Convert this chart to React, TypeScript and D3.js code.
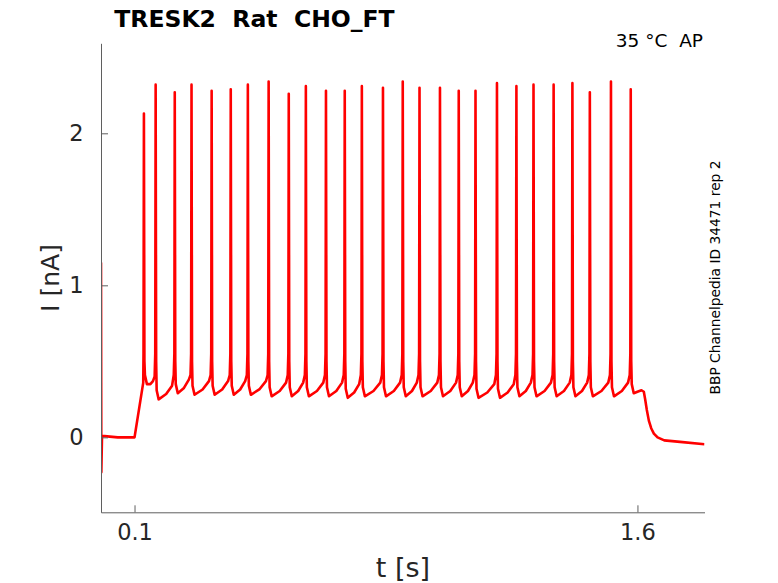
import { useEffect, useRef } from "react";
import * as d3 from "d3";

// spike times (s), peak currents (nA) and the trough reached after each spike
const spikeTimes = [
  0.128, 0.163, 0.22, 0.27, 0.33, 0.387, 0.438, 0.5, 0.56, 0.611, 0.671, 0.727,
  0.778, 0.841, 0.9, 0.95, 1.011, 1.067, 1.117, 1.181, 1.239, 1.29, 1.35, 1.406,
  1.458, 1.521, 1.58,
];
const spikePeaks = [
  2.13, 2.32, 2.27, 2.32, 2.28, 2.29, 2.32, 2.34, 2.26, 2.31, 2.28, 2.28, 2.31,
  2.3, 2.34, 2.3, 2.3, 2.28, 2.28, 2.33, 2.31, 2.32, 2.32, 2.33, 2.27, 2.34, 2.29,
];
const troughs = [
  0.35, 0.25, 0.29, 0.28, 0.28, 0.28, 0.28, 0.27, 0.27, 0.27, 0.27, 0.26, 0.27,
  0.27, 0.27, 0.27, 0.27, 0.27, 0.26, 0.26, 0.27, 0.27, 0.27, 0.27, 0.27, 0.27,
  0.29,
];
// how far the current climbs back up just before the next spike
const preSpikeRise = [
  0.02, 0.09, 0.09, 0.09, 0.09, 0.09, 0.09, 0.09, 0.09, 0.09, 0.09, 0.09, 0.09,
  0.09, 0.09, 0.09, 0.09, 0.09, 0.09, 0.09, 0.09, 0.09, 0.09, 0.09, 0.09, 0.09,
];

// holding current before the step, and the tail after it
const preStep: [number, number][] = [
  [0, 1.15],
  [0.001, -0.23],
  [0.003, 0.01],
  [0.05, 0.0],
  [0.1, 0.0],
  [0.126, 0.36],
];
const postStep: [number, number][] = [
  [1.6, 0.3],
  [1.612, 0.31],
  [1.619, 0.3],
  [1.623, 0.25],
  [1.628, 0.18],
  [1.634, 0.11],
  [1.641, 0.06],
  [1.649, 0.025],
  [1.66, 0.0],
  [1.68, -0.02],
  [1.727, -0.03],
  [1.8, -0.045],
];

const xTicks = [0.1, 1.6];
const yTicks = [0, 1, 2];

const W = 778;
const H = 583;
const margin = { left: 101, right: 73.5, top: 43.3, bottom: 70.7 };

function buildTrace(): [number, number][] {
  const pts: [number, number][] = [...preStep];
  spikeTimes.forEach((t, i) => {
    const tr = troughs[i];
    if (i > 0) {
      const prev = troughs[i - 1];
      pts.push([t - 0.008, prev + preSpikeRise[i - 1]]);
      pts.push([t - 0.003, i === 1 ? prev + 0.05 : 0.41]);
    }
    pts.push([t - 0.0012, 0.55]);
    pts.push([t, spikePeaks[i]]);
    pts.push([t + 0.0015, 0.5]);
    pts.push([t + 0.003, tr + 0.06]);
    pts.push([t + 0.009, tr]);
    const next = spikeTimes[i + 1];
    if (next !== undefined) {
      pts.push([t + 0.55 * (next - t), tr + (i === 0 ? 0.0 : 0.035)]);
    }
  });
  return pts.concat(postStep);
}

const App = () => {
  const xAxisRef = useRef<SVGGElement>(null);
  const yAxisRef = useRef<SVGGElement>(null);

  const x = d3
    .scaleLinear()
    .domain([0, 1.8])
    .range([margin.left, W - margin.right]);
  const y = d3
    .scaleLinear()
    .domain([-0.493, 2.592])
    .range([H - margin.bottom, margin.top]);

  const line = d3
    .line<[number, number]>()
    .x((d) => x(d[0]))
    .y((d) => y(d[1]));

  useEffect(() => {
    const gx = d3.select(xAxisRef.current);
    gx.selectAll("*").remove();
    gx.call(
      d3
        .axisBottom(x)
        .tickValues(xTicks)
        .tickFormat(d3.format(".1f"))
        .tickSizeInner(-7)
        .tickSizeOuter(0)
        .tickPadding(12)
    );
    const gy = d3.select(yAxisRef.current);
    gy.selectAll("*").remove();
    gy.call(
      d3
        .axisLeft(y)
        .tickValues(yTicks)
        .tickFormat(d3.format("d"))
        .tickSizeInner(-7)
        .tickSizeOuter(0)
        .tickPadding(17.5)
    );
    [gx, gy].forEach((g) => {
      g.select(".domain").attr("stroke", "#5f5f5f");
      g.selectAll(".tick line").attr("stroke", "#5f5f5f");
      g.selectAll(".tick text")
        .attr("fill", "#262626")
        .style("font-size", "22.5px")
        .style("font-family", "DejaVu Sans");
    });
  }, []);

  const trace = buildTrace();
  const plotH = H - margin.bottom - margin.top;
  const plotW = W - margin.right - margin.left;

  return (
    <div style={{ position: "absolute", left: 0, top: 0 }}>
      <svg width={W} height={H} style={{ display: "block", fontFamily: "DejaVu Sans" }}>
        <rect width={W} height={H} fill="#fff" />
        <defs>
          <clipPath id="plot">
            <rect x={margin.left} y={margin.top} width={plotW} height={plotH} />
          </clipPath>
        </defs>
        <path
          d={line(trace) ?? ""}
          fill="none"
          stroke="#ff0000"
          strokeWidth={2.6}
          strokeLinejoin="round"
          clipPath="url(#plot)"
        />
        <g ref={xAxisRef} transform={`translate(0,${H - margin.bottom})`} />
        <g ref={yAxisRef} transform={`translate(${margin.left},0)`} />

        <text x={114.3} y={26.7} fontSize={23.5} fontWeight="bold" fill="#000">
          TRESK2{"\u00a0\u00a0"}Rat{"\u00a0\u00a0"}CHO_FT
        </text>
        <text x={703} y={46.7} fontSize={18.5} textAnchor="end" fill="#000">
          35 °C{"\u00a0\u00a0"}AP
        </text>
        <text
          transform="translate(720,277.5) rotate(-90)"
          fontSize={13.8}
          textAnchor="middle"
          fill="#000"
        >
          BBP Channelpedia ID 34471 rep 2
        </text>
        <text x={403} y={577} fontSize={27} textAnchor="middle" fill="#262626">
          t [s]
        </text>
        <text
          transform="translate(58.5,278) rotate(-90)"
          fontSize={25}
          textAnchor="middle"
          fill="#262626"
        >
          I [nA]
        </text>
      </svg>
    </div>
  );
};

export default App;
